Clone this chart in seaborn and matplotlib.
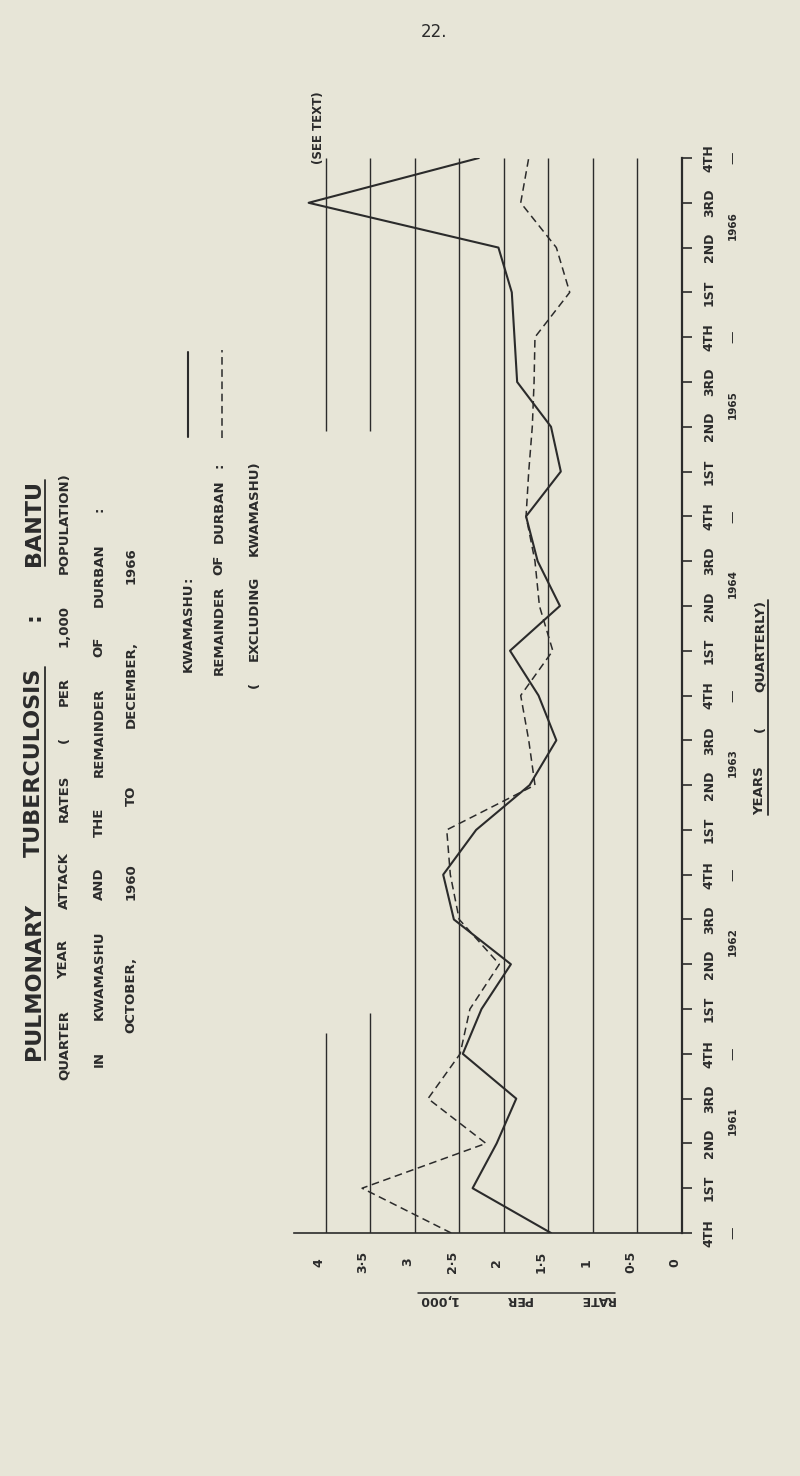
import numpy as np
import pandas as pd
import matplotlib
matplotlib.use('Agg')
import matplotlib.pyplot as plt
import matplotlib.transforms as mtransforms
from matplotlib.lines import Line2D
import seaborn as sns

# Quarters from 4th 1960 to 4th 1966
quarter_labels = ['4TH', '1ST', '2ND', '3RD'] * 6 + ['4TH']
year_labels = ['1961', '1962', '1963', '1964', '1965', '1966']
rate_ticks = [0, 0.5, 1, 1.5, 2, 2.5, 3, 3.5, 4]
rate_tick_labels = ['0', '0·5', '1', '1·5', '2', '2·5', '3', '3·5', '4']

# Attack rates per 1,000, quarter by quarter
kwamashu_rate = [1.47, 2.35, 2.08, 1.86, 2.46, 2.25, 1.92, 2.56, 2.68, 2.31,
                 1.71, 1.41, 1.61, 1.93, 1.37, 1.62, 1.75, 1.36, 1.47, 1.85,
                 1.88, 1.91, 2.06, 4.19, 2.28]
remainder_rate = [2.59, 3.59, 2.20, 2.85, 2.49, 2.38, 2.05, 2.50, 2.60, 2.64,
                  1.65, 1.72, 1.81, 1.45, 1.60, 1.65, 1.75, 1.72, 1.68, 1.66,
                  1.65, 1.26, 1.41, 1.81, 1.72]

ink = '#2b2b2b'
paper = '#e7e5d7'

sns.set_style('white')
plt.rcParams['font.family'] = ['DejaVu Sans']

W, H = 800, 1476
fig = plt.figure(figsize=(W / 100, H / 100), dpi=100, facecolor=paper)


def fx(x):
    return x / W


def fy(y):
    return 1 - y / H


# page is printed sideways: time runs up the page, rate runs right-to-left
ax = fig.add_axes([fx(281), fy(1233), 401 / W, 1075 / H])
ax.patch.set_alpha(0)

df = pd.DataFrame({'quarter': np.arange(len(quarter_labels)),
                   'kwamashu': kwamashu_rate,
                   'remainder': remainder_rate})

# grid (rates 4 and 3.5 are broken where the heading sits)
for r in [0.5, 1, 1.5, 2, 2.5, 3]:
    ax.vlines(r, 0, 24, color=ink, lw=1.0)
ax.vlines(4.0, 0, 4.46, color=ink, lw=1.0)
ax.vlines(4.0, 17.9, 24, color=ink, lw=1.0)
ax.vlines(3.5, 0, 4.91, color=ink, lw=1.0)
ax.vlines(3.5, 17.9, 24, color=ink, lw=1.0)

sns.lineplot(data=df, x='kwamashu', y='quarter', sort=False, estimator=None,
             color=ink, lw=1.5, ax=ax)
sns.lineplot(data=df, x='remainder', y='quarter', sort=False, estimator=None,
             color=ink, lw=1.1, ax=ax)
ax.lines[-1].set_linestyle((0, (5, 3)))

ax.set_xlim(4.5, 0)
ax.set_ylim(0, 24)
ax.set_xlabel('')
ax.set_ylabel('')
ax.spines['top'].set_visible(False)
ax.spines['left'].set_visible(False)
ax.spines['right'].set_linewidth(1.6)
ax.spines['right'].set_color(ink)
ax.spines['bottom'].set_linewidth(1.2)
ax.spines['bottom'].set_color(ink)
ax.spines['bottom'].set_bounds(0, 4.35)

# rate axis labels
ax.set_xticks(rate_ticks, rate_tick_labels)
ax.tick_params(axis='x', length=0, pad=21, labelsize=9, labelcolor=ink)
shift = mtransforms.ScaledTranslation(-7 / 100, 0, fig.dpi_scale_trans)
for lab in ax.get_xticklabels():
    lab.set_rotation(90)
    lab.set_va('center')
    lab.set_fontweight('bold')
    lab.set_transform(lab.get_transform() + shift)

# quarter axis labels
ax.yaxis.tick_right()
ax.set_yticks(range(len(quarter_labels)), quarter_labels)
ax.tick_params(axis='y', direction='out', length=7, width=1.2, color=ink,
               pad=8, labelsize=9, labelcolor=ink)
for lab in ax.get_yticklabels():
    lab.set_rotation(90)
    lab.set_va('center')
    lab.set_ha('left')
    lab.set_fontweight('bold')

ytr = ax.get_yaxis_transform()
xpos = (733 - 281) / 401
for k, yr in enumerate(year_labels):
    ax.text(xpos, 4 * k + 2.5, yr, transform=ytr, rotation=90, ha='center',
            va='center', fontsize=7.5, fontweight='bold', color=ink)
for k in range(0, 25, 4):
    ax.text(xpos, k, '—', transform=ytr, rotation=90, ha='center',
            va='center', fontsize=9, color=ink)

ax.text(4.08, 24.67, '(SEE TEXT)', rotation=90, ha='center', va='center',
        fontsize=8.5, fontweight='bold', color=ink)

renderer = fig.canvas.get_renderer()
underlines = []


def word_line(words, x, y_start, y_end, size, rotation=90, weight='bold',
              underline=()):
    texts, lens = [], []
    for w in words:
        t = fig.text(0, 0, w, fontsize=size, fontweight=weight, color=ink,
                     rotation=rotation, ha='center', va='center')
        bb = t.get_window_extent(renderer)
        lens.append(bb.height if rotation in (90, 270) else bb.width)
        texts.append(t)
    span = abs(y_start - y_end)
    gap = (span - sum(lens)) / max(len(words) - 1, 1)
    step = -1 if y_end < y_start else 1
    pos = y_start
    for t, ln in zip(texts, lens):
        c = pos + step * ln / 2
        if rotation in (90, 270):
            t.set_position((fx(x), fy(c)))
        else:
            t.set_position((fx(c), fy(x)))
        pos += step * (ln + gap)
    # underline groups: each is a tuple of word indexes drawn as one line
    for grp in underline:
        underlines.append(([texts[i] for i in grp], rotation))
    return texts


word_line(['PULMONARY', 'TUBERCULOSIS', ':', 'BANTU'], 34, 1060, 480, 16,
          underline=((0, 1), (3,)))
word_line(['QUARTER', 'YEAR', 'ATTACK', 'RATES', '(', 'PER', '1,000',
           'POPULATION)'], 64, 1080, 472, 9.5)
word_line(['IN', 'KWAMASHU', 'AND', 'THE', 'REMAINDER', 'OF', 'DURBAN', ':'],
          99, 1067, 507, 9.5)
word_line(['OCTOBER,', '1960', 'TO', 'DECEMBER,', '1966'], 131, 1033, 547, 9.5)
word_line(['KWAMASHU', ':'], 188, 672, 577, 9.5)
word_line(['REMAINDER', 'OF', 'DURBAN', ':'], 219, 675, 463, 9.5)
word_line(['(', 'EXCLUDING', 'KWAMASHU)'], 254, 688, 460, 9.5)
word_line(['YEARS', '(', 'QUARTERLY)'], 760, 815, 600, 9.5,
          underline=((0, 1, 2),))
word_line(['RATE', 'PER', '1,000'], 1300, 615, 418, 9, rotation=180,
          underline=((0, 1, 2),))

fig.text(fx(434), fy(32), '22.', ha='center', va='center', fontsize=12,
         color=ink)

# legend keys
fig.add_artist(Line2D([fx(188), fx(188)], [fy(437), fy(352)], color=ink, lw=1.5))
fig.add_artist(Line2D([fx(222), fx(222)], [fy(438), fy(350)], color=ink, lw=1.1,
                      linestyle=(0, (5, 3))))

# underline words (baseline side of sideways text)
fig.canvas.draw()
renderer = fig.canvas.get_renderer()
ident = mtransforms.IdentityTransform()
for grp, rot in underlines:
    bbs = [t.get_window_extent(renderer) for t in grp]
    x0 = min(b.x0 for b in bbs)
    x1 = max(b.x1 for b in bbs)
    y0 = min(b.y0 for b in bbs)
    y1 = max(b.y1 for b in bbs)
    if rot == 90:
        fig.add_artist(Line2D([x1 + 1, x1 + 1], [y0, y1], transform=ident,
                              color=ink, lw=1.3))
    else:
        fig.add_artist(Line2D([x0, x1], [y1 + 1, y1 + 1], transform=ident,
                              color=ink, lw=1.1))

fig.savefig('out.png', dpi=100, facecolor=paper)
